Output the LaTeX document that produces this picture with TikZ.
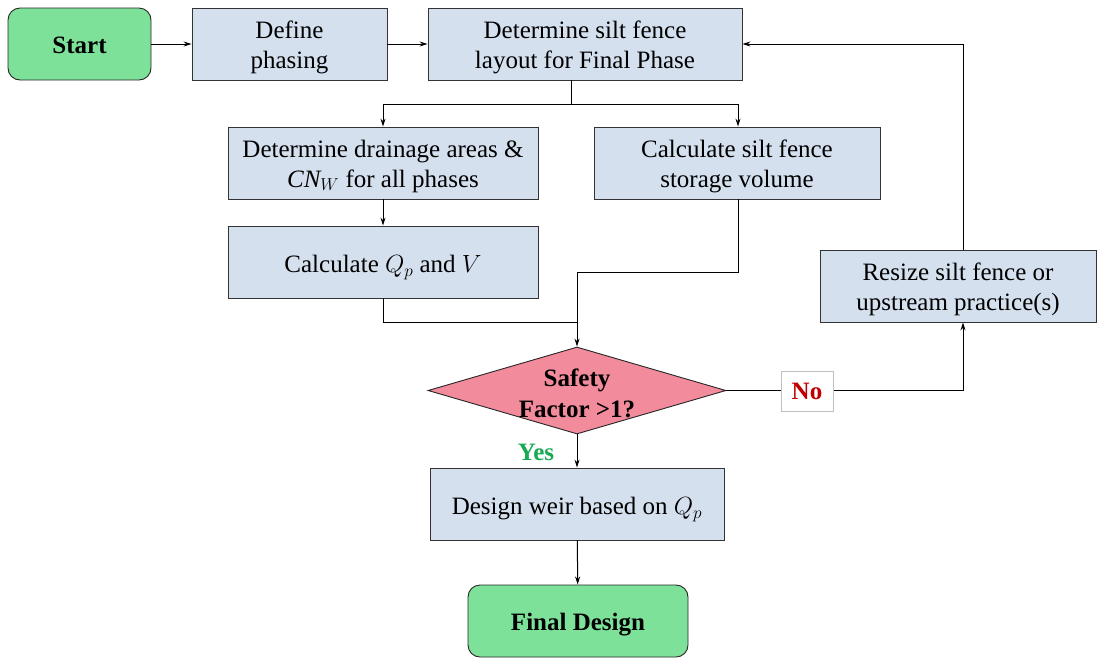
\documentclass[tikz,border=0pt]{standalone}
\usepackage{fontspec}
\setmainfont{Liberation Serif}
\usetikzlibrary{shapes.geometric,arrows.meta}
\definecolor{termgreen}{HTML}{7EE19A}
\definecolor{procblue}{HTML}{D5E0EE}
\definecolor{decpink}{HTML}{F28B9B}
\definecolor{yesgreen}{HTML}{1AAA55}
\definecolor{nored}{HTML}{C00000}
\begin{document}
\begin{tikzpicture}[x=1pt,y=-1pt,
  font=\fontsize{25}{30}\selectfont,
  proc/.style={draw=black!80, line width=0.9pt, fill=procblue, align=center, inner sep=0pt, text height=51pt, text depth=2.5pt},
  oneline/.style={text height=23.5pt, text depth=2.5pt},
  term/.style={draw=black!85, line width=0.9pt, fill=termgreen, rounded corners=12pt, align=center, inner sep=0pt, text height=21pt, text depth=2.5pt, font=\fontsize{25}{30}\selectfont\bfseries},
  conn/.style={line width=1pt, -{Stealth[length=8pt,width=5pt]}},
  plain/.style={line width=1pt}
]
\useasboundingbox (0,0) rectangle (1097,657);
% nodes
\node[term, minimum width=143, minimum height=72] (start) at (79.5,44) {Start};
\node[proc, minimum width=195, minimum height=72] (phase) at (289.5,44) {Define\\phasing};
\node[proc, minimum width=314, minimum height=72] (layout) at (585,44) {Determine silt fence\\layout for Final Phase};
\node[proc, minimum width=310, minimum height=72] (drain) at (383,163) {Determine drainage areas \&\\$\mathit{CN}_W$ for all phases};
\node[proc, minimum width=286, minimum height=72] (store) at (737,163) {Calculate silt fence\\storage volume};
\node[proc, oneline, minimum width=310, minimum height=72] (qp) at (383,262) {Calculate $Q_p$ and $V$};
\node[proc, minimum width=276, minimum height=72] (resize) at (958,286) {Resize silt fence or\\upstream practice(s)};
\node[diamond, draw=black!85, line width=0.9pt, fill=decpink, minimum width=298, minimum height=87, inner sep=0pt] (dec) at (577,390.5) {};
\node[align=center, font=\fontsize{25}{31}\selectfont\bfseries] (dectext) at (577,393) {Safety\\Factor >1?};
\node[proc, oneline, minimum width=294, minimum height=72] (weir) at (577,504) {Design weir based on $Q_p$};
\node[term, minimum width=220, minimum height=72] (final) at (578,621) {Final Design};
% helper coordinates
\coordinate (split) at (571,104);
\coordinate (merge) at (577,322);
\coordinate (corner) at (963,390.5);
% connectors
\draw[conn] (start) -- (phase);
\draw[conn] (phase) -- (layout);
\draw[plain] (layout.south -| split) -- (split);
\draw[conn] (split) -| (drain.north);
\draw[conn] (split) -| (store.north -| 738,0);
\draw[conn] (drain) -- (qp);
\draw[plain] (qp.south) |- (merge);
\draw[plain] (store.south -| 738,0) |- (577,272) -- (merge);
\draw[conn] (merge) -- (dec.north);
\draw[conn] (dec.east) -- (corner) -- (resize.south -| corner);
\draw[conn] (resize.north -| corner) |- (layout.east);
\draw[conn] (dec.south) -- (weir.north);
\draw[conn] (weir) -- (final);
% labels
\node[draw=black!25, line width=0.7pt, fill=white, minimum width=52, minimum height=40, inner sep=0pt, font=\fontsize{25}{30}\selectfont\bfseries, text=nored] (nolab) at (807,391) {No};
\node[font=\fontsize{25}{30}\selectfont\bfseries, text=yesgreen] (yeslab) at (536,452) {Yes};
\end{tikzpicture}
\end{document}
